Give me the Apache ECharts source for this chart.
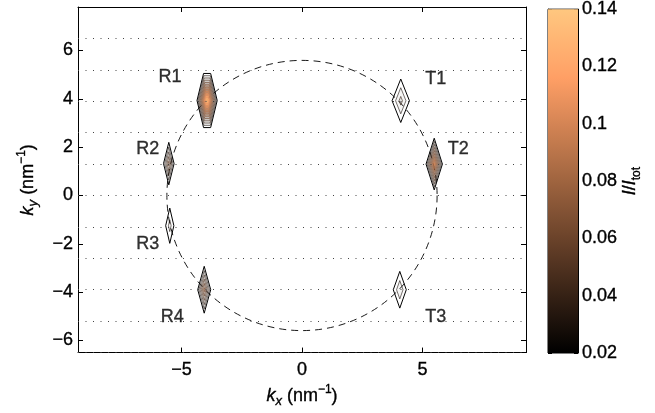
<!DOCTYPE html>
<html><head><meta charset="utf-8">
<script src="https://cdn.jsdelivr.net/npm/echarts@6/dist/echarts.min.js"></script>
<style>html,body{margin:0;padding:0;background:#fff}#c{width:655px;height:413px}</style>
</head><body><div id="c"></div>
<script>
// ---- data ----
const peakNames = ['R1', 'R2', 'R3', 'R4', 'T1', 'T2', 'T3'];
const peakX = [-3.94, -5.53, -5.49, -4.06, 4.10, 5.49, 4.06];
const peakY = [3.93, 1.32, -1.25, -3.90, 3.92, 1.30, -3.90];
const peakHalfWidth = [0.42, 0.22, 0.17, 0.27, 0.36, 0.34, 0.27];
const peakHalfHeight = [1.12, 0.88, 0.73, 0.97, 0.90, 1.07, 0.76];
const peakIntensity = [0.14, 0.065, 0.035, 0.075, 0.045, 0.105, 0.04];
const contourLevels = [0.02, 0.03, 0.04, 0.05, 0.06, 0.07, 0.08, 0.09, 0.10, 0.11, 0.12, 0.13];
const circleRadius = [5.6];
const dottedKy = [-6.5, -5.2, -3.9, -2.6, -1.3, 0, 1.3, 2.6, 3.9, 5.2, 6.5];
const xTicks = [-5, 0, 5];
const yTicks = [-6, -4, -2, 0, 2, 4, 6];
const xRange = [-9.3, 9.3];
const yRange = [-6.5, 7.8];
const cbRange = [0.02, 0.14];

// ---- style / layout ----
const FONT = 'Liberation Sans';
const FS = 18;
const TB = { textBorderColor: '#000', textBorderWidth: 0.35 };
const shapeStyle = { R1: { flat: 0.35 } };
const labelOffset = {
  R1: [-37, -23], R2: [-21, -15], R3: [-22, 18], R4: [-32, 27],
  T1: [35, -22], T2: [24, -15], T3: [36, 27]
};
function copperT(v) {
  const t = (v - cbRange[0]) / (cbRange[1] - cbRange[0]);
  return Math.max(0, Math.min(1, t));
}
function copper(v, alpha) {
  const t = copperT(v);
  const r = Math.min(1, 1.25 * t), g = 0.7812 * t, b = 0.4975 * t;
  return 'rgba(' + Math.round(r * 255) + ',' + Math.round(g * 255) + ',' + Math.round(b * 255) + ',' + (alpha == null ? 1 : alpha) + ')';
}
const minus = v => String(v).replace('-', '\u2212');

const contourData = [];
peakNames.forEach((n, i) => {
  contourLevels.forEach(L => {
    if (L < peakIntensity[i]) {
      const s = (peakIntensity[i] - L) / (peakIntensity[i] - contourLevels[0]);
      contourData.push([peakX[i], peakY[i], peakHalfWidth[i] * s, peakHalfHeight[i] * s, L, i]);
    }
  });
});

const base = Object.assign({ fontFamily: FONT, color: '#000', lineHeight: 24 }, TB);
const rich = {
  i: Object.assign({}, base, { fontSize: FS, fontStyle: 'italic' }),
  n: Object.assign({}, base, { fontSize: FS }),
  sub: Object.assign({}, base, { fontSize: 12, verticalAlign: 'bottom' }),
  isub: Object.assign({}, base, { fontSize: 13, fontStyle: 'italic', verticalAlign: 'bottom' }),
  sup: Object.assign({}, base, { fontSize: 12, verticalAlign: 'top' })
};
const tickFont = Object.assign({ color: '#000', fontSize: FS, fontFamily: FONT }, TB);

const stops = [];
for (let k = 0; k <= 20; k++) {
  stops.push({ offset: k / 20, color: copper(cbRange[0] + (cbRange[1] - cbRange[0]) * k / 20) });
}

const chart = echarts.init(document.getElementById('c'));
const axLine = { show: true, onZero: false, lineStyle: { color: '#000', width: 1 } };
chart.setOption({
  animation: false,
  backgroundColor: '#fff',
  textStyle: { fontFamily: FONT },
  grid: [
    { left: 78, top: 7, width: 448, height: 346, show: false },
    { left: 548, top: 6, width: 30, height: 347, show: true, borderColor: '#000', borderWidth: 1, backgroundColor: 'transparent' }
  ],
  xAxis: [
    { type: 'value', gridIndex: 0, min: xRange[0], max: xRange[1], position: 'bottom',
      axisLine: axLine, splitLine: { show: false },
      axisTick: { inside: true, length: 5, customValues: xTicks, lineStyle: { color: '#000' } },
      axisLabel: Object.assign({ customValues: xTicks, formatter: minus, margin: 8 }, tickFont),
      name: '{i|k}{isub|x}{n| (nm}{sup|\u22121}{n|)}', nameLocation: 'middle', nameGap: 21,
      nameTextStyle: { rich: rich } },
    { type: 'value', gridIndex: 0, min: xRange[0], max: xRange[1], position: 'top',
      axisLine: axLine, splitLine: { show: false },
      axisTick: { inside: true, length: 5, customValues: xTicks, lineStyle: { color: '#000' } },
      axisLabel: { show: false } },
    { type: 'value', gridIndex: 1, min: 0, max: 1, show: false }
  ],
  yAxis: [
    { type: 'value', gridIndex: 0, min: yRange[0], max: yRange[1], position: 'left',
      axisLine: axLine, splitLine: { show: false },
      axisTick: { inside: true, length: 5, customValues: yTicks, lineStyle: { color: '#000' } },
      axisLabel: Object.assign({ customValues: yTicks, formatter: minus, margin: 5 }, tickFont),
      name: '{i|k}{isub|y}{n| (nm}{sup|\u22121}{n|)}', nameLocation: 'middle', nameGap: 38, nameRotate: 90,
      nameTextStyle: { rich: rich } },
    { type: 'value', gridIndex: 0, min: yRange[0], max: yRange[1], position: 'right',
      axisLine: axLine, splitLine: { show: false },
      axisTick: { inside: true, length: 5, customValues: yTicks, lineStyle: { color: '#000' } },
      axisLabel: { show: false } },
    { type: 'value', gridIndex: 1, min: cbRange[0], max: cbRange[1], interval: 0.02, position: 'left',
      axisLine: axLine, splitLine: { show: false },
      axisTick: { inside: true, length: 4, lineStyle: { color: '#000' } },
      axisLabel: { show: false } },
    { type: 'value', gridIndex: 1, min: cbRange[0], max: cbRange[1], interval: 0.02, position: 'right',
      axisLine: axLine, splitLine: { show: false },
      axisTick: { inside: true, length: 4, lineStyle: { color: '#000' } },
      axisLabel: Object.assign({ margin: 4 }, tickFont),
      name: '{i|I}{n|/}{i|I}{sub|tot}', nameLocation: 'middle', nameGap: 40, nameRotate: 90,
      nameTextStyle: { rich: rich } }
  ],
  series: [
    { type: 'custom', name: 'colorbar', xAxisIndex: 2, yAxisIndex: 2, silent: true,
      data: [[0, cbRange[0], 1, cbRange[1]]],
      renderItem: function (params, api) {
        const p0 = api.coord([api.value(0), api.value(3)]);
        const p1 = api.coord([api.value(2), api.value(1)]);
        return { type: 'rect', shape: { x: p0[0], y: p0[1], width: p1[0] - p0[0], height: p1[1] - p0[1] },
          style: { fill: new echarts.graphic.LinearGradient(0, 1, 0, 0, stops) } };
      }, z: 1 },
    { type: 'line', name: 'dotted', xAxisIndex: 0, yAxisIndex: 0, data: [], silent: true,
      markLine: { silent: true, symbol: ['none', 'none'], label: { show: false },
        lineStyle: { color: '#444', width: 1, type: [1, 6.5] },
        data: dottedKy.map(v => ({ yAxis: v })) } },
    { type: 'custom', name: 'circle', xAxisIndex: 0, yAxisIndex: 0, silent: true,
      data: [[0, 0, circleRadius[0]]],
      renderItem: function (params, api) {
        const c = api.coord([api.value(0), api.value(1)]);
        const s = api.size([api.value(2), api.value(2)]);
        return { type: 'circle', shape: { cx: c[0], cy: c[1], r: (s[0] + s[1]) / 2 },
          style: { fill: 'none', stroke: '#000', lineWidth: 0.9, lineDash: [7, 5] } };
      } },
    { type: 'custom', name: 'contours', xAxisIndex: 0, yAxisIndex: 0, silent: true,
      data: contourData,
      renderItem: function (params, api) {
        const cx = api.value(0), cy = api.value(1), a = api.value(2), b = api.value(3), L = api.value(4), i = api.value(5);
        const f = (shapeStyle[peakNames[i]] || {}).flat || 0;
        const pts = [[cx + f * a, cy + b], [cx + a, cy], [cx + f * a, cy - b], [cx - f * a, cy - b], [cx - a, cy], [cx - f * a, cy + b]]
          .map(p => api.coord(p));
        const t = copperT(L);
        const first = L === contourLevels[0];
        return { type: 'polygon', shape: { points: pts },
          style: { fill: first ? 'none' : copper(L, 0.5 * t), stroke: copper(L), lineWidth: first ? 1 : 0.6 } };
      }, z: 3 },
    { type: 'scatter', name: 'labels', xAxisIndex: 0, yAxisIndex: 0, symbolSize: 0, silent: true,
      data: peakNames.map((n, i) => ({ name: n, value: [peakX[i], peakY[i]],
        label: { offset: labelOffset[n] } })),
      label: Object.assign({ show: true, position: 'inside', formatter: '{b}' }, tickFont),
      z: 4 }
  ]
});
</script></body></html>
